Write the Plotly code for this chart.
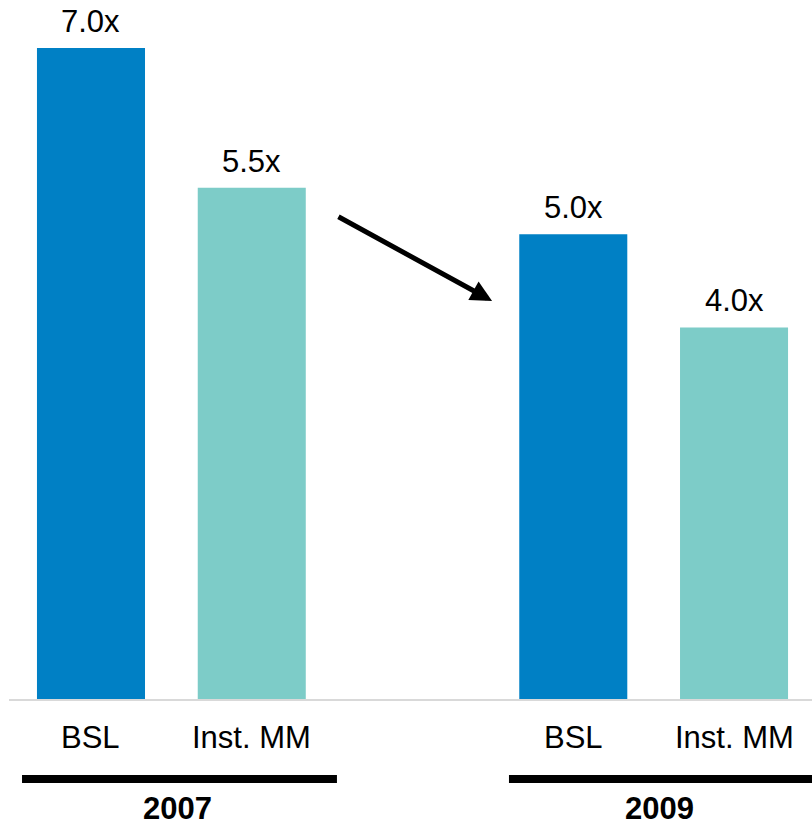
import plotly.graph_objects as go

# Leverage multiples by year and lender type
years = ["2007", "2009"]
lenders = ["BSL", "Inst. MM", "BSL", "Inst. MM"]
multiples = [7.0, 5.5, 5.0, 4.0]
positions = [0, 1, 3, 4]          # numeric slots, gap between year groups
colors = ["#0080C5", "#7DCCC8", "#0080C5", "#7DCCC8"]

FONT = "Liberation Sans, Arial, sans-serif"
FS = 31

fig = go.Figure(
    go.Bar(
        x=positions,
        y=multiples,
        width=0.672,
        marker=dict(color=colors, line=dict(width=0)),
        hoverinfo="skip",
    )
)

annotations = []
# value labels above bars
for p, v in zip(positions, multiples):
    annotations.append(dict(
        x=p, y=v, xref="x", yref="y", text=f"{v:.1f}x", showarrow=False,
        yanchor="bottom", yshift=8, borderpad=0,
        font=dict(family=FONT, size=FS, color="#000"),
    ))
# category labels under the axis
for p, name in zip(positions, lenders):
    annotations.append(dict(
        x=p, y=-0.054, xref="x", yref="paper", text=name, showarrow=False,
        yanchor="middle", borderpad=0, font=dict(family=FONT, size=FS, color="#000"),
    ))
# year labels
group_centers = [0.5, 3.5]
for c, yr in zip(group_centers, years):
    annotations.append(dict(
        x=c, y=-0.155, xref="x", yref="paper", text=f"<b>{yr}</b>", showarrow=False,
        yanchor="middle", xshift=6, borderpad=0,
        font=dict(family=FONT, size=FS, color="#000"),
    ))
# downward trend arrow
annotations.append(dict(
    x=2.495, y=4.284, xref="x", yref="y",
    ax=1.530, ay=5.197, axref="x", ayref="y",
    showarrow=True, arrowhead=2, arrowsize=0.85, arrowwidth=5, arrowcolor="#000",
    text="",
))

shapes = [
    # baseline
    dict(type="line", xref="paper", yref="paper", x0=9 / 812, x1=1, y0=0, y1=0,
         line=dict(color="#D9D9D9", width=2), layer="above"),
    # year group underlines
    dict(type="line", xref="x", yref="paper", x0=-0.429, x1=1.53, y0=-0.113, y1=-0.113,
         line=dict(color="#000", width=8)),
    dict(type="line", xref="x", yref="paper", x0=2.60, x1=4.6, y0=-0.113, y1=-0.113,
         line=dict(color="#000", width=8)),
]

fig.update_layout(
    width=812, height=826,
    margin=dict(l=0, r=0, t=0, b=126),
    paper_bgcolor="white", plot_bgcolor="white",
    showlegend=False,
    xaxis=dict(range=[-0.566, 4.485], visible=False, fixedrange=True),
    yaxis=dict(range=[0, 7.515], visible=False, fixedrange=True),
    annotations=annotations,
    shapes=shapes,
)

fig.write_html("out.html")
